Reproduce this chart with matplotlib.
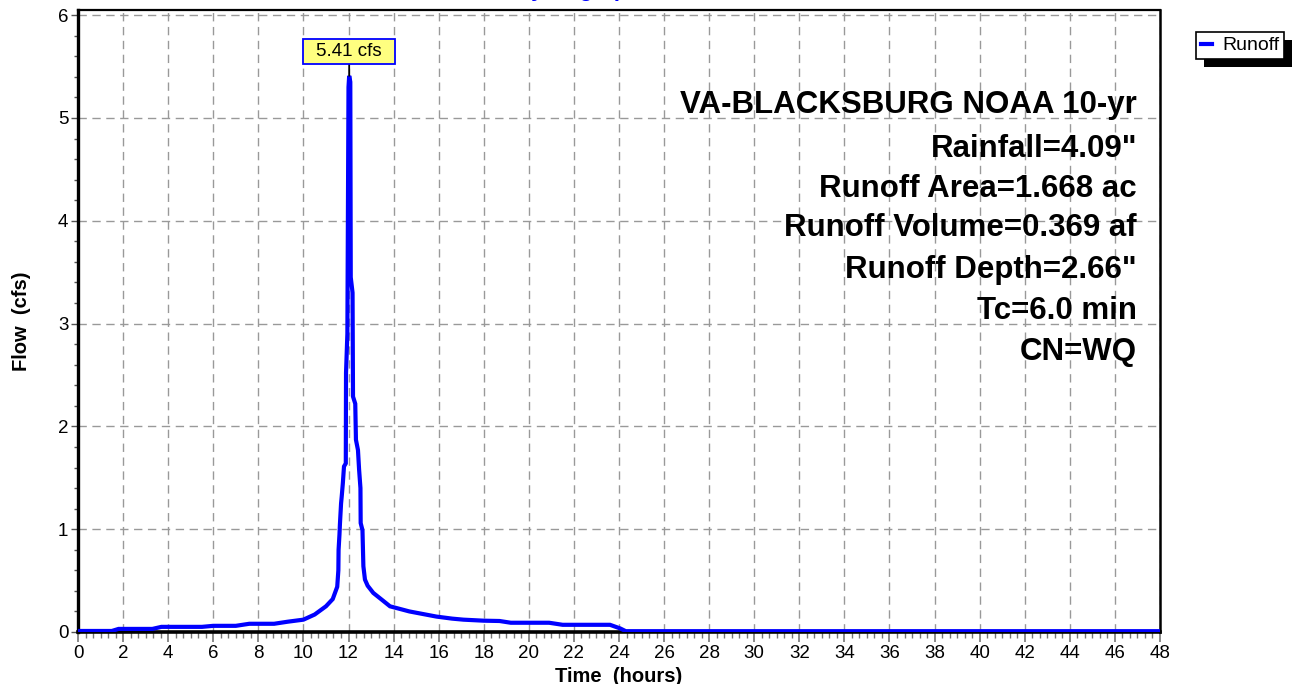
import matplotlib
matplotlib.use("Agg")
import matplotlib.pyplot as plt
from matplotlib.ticker import MultipleLocator
from matplotlib.patches import Rectangle

plt.rcParams['font.family'] = ['Liberation Sans', 'DejaVu Sans']

# ---- data ----
time_hr = [0, 1.5, 1.8, 3.3, 3.7, 5.5, 6.0, 7.0, 7.6, 8.7, 9.3, 10.0, 10.5, 11.0,
           11.3, 11.5, 11.55, 11.56, 11.6, 11.62, 11.67, 11.70, 11.75, 11.8, 11.88,
           11.89, 11.95, 12.0, 12.03, 12.08, 12.1, 12.18, 12.2, 12.3, 12.33, 12.42,
           12.47, 12.53, 12.54, 12.62, 12.66, 12.73, 12.85, 13.1, 13.5, 13.84, 14.7,
           15.9, 16.6, 17.1, 18.0, 18.7, 19.2, 20.9, 21.5, 23.6, 24.05, 24.3, 48.0]
flow_cfs = [0.01, 0.01, 0.03, 0.03, 0.05, 0.05, 0.06, 0.06, 0.08, 0.08, 0.10, 0.12, 0.17, 0.25,
            0.32, 0.44, 0.60, 0.80, 0.95, 1.05, 1.25, 1.32, 1.45, 1.61, 1.64,
            2.52, 2.90, 5.30, 5.41, 5.35, 3.45, 3.30, 2.29, 2.22, 1.87, 1.77,
            1.58, 1.40, 1.06, 0.99, 0.64, 0.51, 0.45, 0.38, 0.31, 0.25, 0.20,
            0.15, 0.13, 0.12, 0.11, 0.107, 0.09, 0.09, 0.07, 0.07, 0.035, 0.008, 0.008]
peak_time = 12.03
peak_flow = 5.41
series_name = "Runoff"
title = "Hydrograph"
info_lines = ["VA-BLACKSBURG NOAA 10-yr", 'Rainfall=4.09"', "Runoff Area=1.668 ac",
              "Runoff Volume=0.369 af", 'Runoff Depth=2.66"', "Tc=6.0 min", "CN=WQ"]
x_ticks = list(range(0, 49, 2))
y_ticks = list(range(0, 7))

W, H = 1294, 684
fig = plt.figure(figsize=(W / 100, H / 100), dpi=100)
ax = fig.add_axes([78 / W, 52 / H, (1160 - 78) / W, (632 - 10) / H])

ax.plot(time_hr, flow_cfs, color='#0000FF', lw=3.0, solid_joinstyle='miter', zorder=3)

ax.set_xlim(0, 48)
ax.set_ylim(0, 6.05)
ax.set_xticks(x_ticks)
ax.set_yticks(y_ticks)
ax.xaxis.set_minor_locator(MultipleLocator(1 / 3))
ax.yaxis.set_minor_locator(MultipleLocator(0.2))
ax.tick_params(axis='x', which='major', direction='out', length=7, width=1.2, color='#777777',
               labelsize=13.5, pad=2)
ax.tick_params(axis='x', which='minor', direction='out', length=4, width=1.0, color='#777777')
ax.tick_params(axis='y', which='major', direction='out', length=5, width=1.0, color='#555555',
               labelsize=13.5, pad=2)
ax.tick_params(axis='y', which='minor', direction='out', length=3, width=1.0, color='#555555')

ax.grid(True, which='major', color='#999999', lw=1.0, linestyle=(0, (6, 4)), zorder=1)
ax.set_axisbelow(True)

ax.spines['left'].set_linewidth(2.4)
ax.spines['bottom'].set_linewidth(2.6)
ax.spines['top'].set_linewidth(1.6)
ax.spines['right'].set_linewidth(1.8)

ax.set_xlabel("Time  (hours)", fontsize=14.5, fontweight='bold', labelpad=4)
ax.set_ylabel("Flow  (cfs)", fontsize=14.5, fontweight='bold', labelpad=19)

# peak annotation
ax.annotate(f"{peak_flow:.2f} cfs", xy=(peak_time, peak_flow), xytext=(peak_time, 5.65),
            ha='center', va='center', fontsize=13.5,
            bbox=dict(boxstyle='square,pad=0.7', fc='#FFFF80', ec='#0000FF', lw=1.3,
                      mutation_aspect=0.3),
            arrowprops=dict(arrowstyle='-', color='black', lw=1.3, shrinkA=0, shrinkB=0),
            zorder=5)

# info text block
info_y = [105, 149, 189, 228, 270, 311, 352]
for line, ypx in zip(info_lines, info_y):
    fig.text(1137 / W, 1 - ypx / H, line, ha='right', va='center', fontsize=22.5,
             fontweight='bold', color='black')

# clipped title at top
fig.text(578 / W, 1 + 4 / H, title, ha='center', va='baseline', fontsize=16,
         fontweight='bold', color='#0000FF')

# legend with hard shadow
leg = fig.legend(handles=ax.get_lines(), labels=[series_name], loc='upper left',
                 bbox_to_anchor=(1196 / W, 1 - 32 / H), fontsize=14, frameon=True,
                 fancybox=False, edgecolor='black', framealpha=1, borderpad=0.25,
                 handlelength=0.55, handletextpad=0.55, borderaxespad=0)
leg.get_frame().set_linewidth(1.2)
for h in leg.legend_handles:
    h.set_linewidth(3)
leg.set_zorder(10)
fig.canvas.draw()
bb = leg.get_frame().get_window_extent()
shadow = Rectangle((bb.x0 + 8, bb.y0 - 8), bb.width, bb.height, transform=None,
                   facecolor='black', edgecolor='none', zorder=9)
fig.patches.append(shadow)

fig.savefig("out.png", dpi=100)
